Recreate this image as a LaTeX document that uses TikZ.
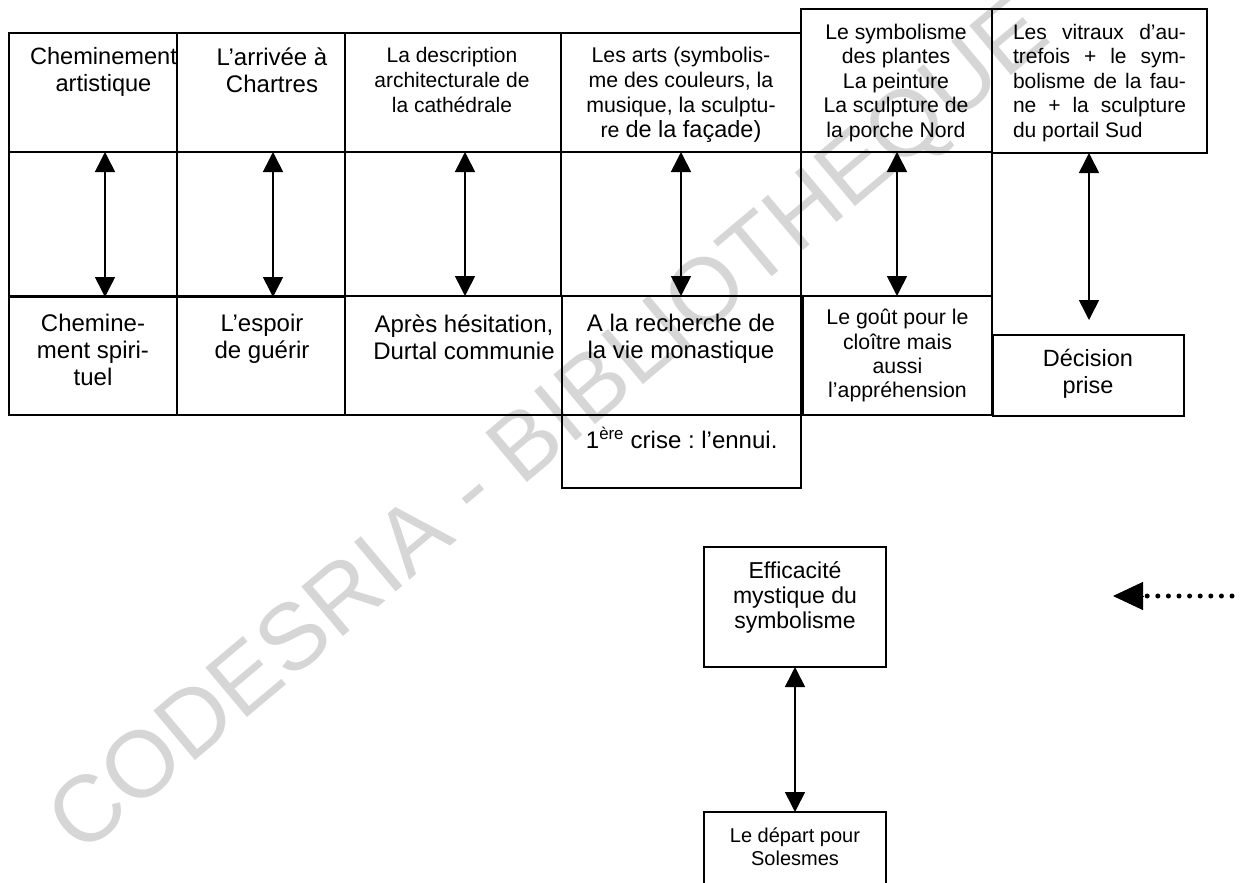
\documentclass[tikz,border=0pt]{standalone}
\usepackage{fontspec}
\setmainfont{Liberation Sans}
\usetikzlibrary{arrows.meta}
\frenchspacing
\begin{document}
\begin{tikzpicture}[x=1pt,y=-1pt,
  cell/.style={draw,line width=1.6pt,inner sep=0pt,outer sep=0pt,rectangle},
  txt/.style={inner sep=0pt,align=center,anchor=north},
  dbl/.style={line width=1.6pt,{Triangle[length=20pt,width=20pt]}-{Triangle[length=20pt,width=20pt]}},
  dotline/.style={line width=5pt,line cap=round,dash pattern=on 0pt off 10.6pt},
  headonly/.style={line width=1pt,-{Triangle[length=30pt,width=28pt]}},
  wm/.style={text=black!16,font=\fontsize{94}{96}\selectfont,rotate=40,inner sep=0pt}]
\useasboundingbox (0,0) rectangle (1245,883);
\clip (0,0) rectangle (1245,883);
\fill[white] (0,0) rectangle (1245,883);
% watermark
\node[wm] (wmark) at (552,430) {CODESRIA - BIBLIOTHEQUE};
% top row
\node[cell,minimum width=168pt,minimum height=119pt] (t1) at (93,92.5) {};
\node[cell,minimum width=168pt,minimum height=119pt] (t2) at (261,92.5) {};
\node[cell,minimum width=216pt,minimum height=119pt] (t3) at (453,92.5) {};
\node[cell,minimum width=240pt,minimum height=119pt] (t4) at (681,92.5) {};
\node[cell,minimum width=191pt,minimum height=143pt] (t5) at (896.5,80.5) {};
\node[cell,minimum width=215pt,minimum height=144pt] (t6) at (1099.5,81) {};
% middle row
\node[cell,minimum width=168pt,minimum height=144pt] (m1) at (93,224) {};
\node[cell,minimum width=168pt,minimum height=144pt] (m2) at (261,224) {};
\node[cell,minimum width=216pt,minimum height=144pt] (m3) at (453,224) {};
\node[cell,minimum width=240pt,minimum height=144pt] (m4) at (681,224) {};
\node[cell,minimum width=191pt,minimum height=144pt] (m5) at (896.5,224) {};
% bottom row
\node[cell,minimum width=168pt,minimum height=118pt] (b1) at (93,356) {};
\node[cell,minimum width=168pt,minimum height=118pt] (b2) at (261,356) {};
\node[cell,minimum width=217pt,minimum height=119pt] (b3) at (453.5,355.5) {};
\node[cell,minimum width=239pt,minimum height=119pt] (b4) at (681.5,355.5) {};
\node[cell,minimum width=189pt,minimum height=119pt] (b5) at (897.5,355.5) {};
\node[cell,minimum width=239pt,minimum height=73pt] (c4) at (681.5,451.5) {};
\node[cell,minimum width=191pt,minimum height=81pt] (d6) at (1088.5,375.5) {};
% lower boxes
\node[cell,minimum width=182pt,minimum height=120pt] (e1) at (795,607) {};
\node[cell,minimum width=182pt,minimum height=88pt] (e2) at (795,856) {};
% texts
\node[txt,font=\fontsize{23.6}{27}\selectfont] (t1x) at (103.5,47) {Cheminement\\artistique};
\node[txt,font=\fontsize{24}{27}\selectfont] (t2x) at (272,48) {L’arrivée à\\Chartres};
\node[txt,font=\fontsize{21}{25}\selectfont] (t3x) at (452,47) {La description\\architecturale de\\la cathédrale};
\node[txt,font=\fontsize{21.3}{25}\selectfont] (t4x) at (681,47) {Les arts (symbolis-\\me des couleurs, la\\musique, la sculptu-\\re {\fontsize{23.5}{25}\selectfont de la façade)}};
\node[txt,font=\fontsize{21.2}{24.4}\selectfont] (t5x) at (896,24) {Le symbolisme\\des plantes\\La peinture\\La sculpture de\\la porche Nord};
\node[txt,align=left,font=\fontsize{21}{24.4}\selectfont] (t6x) at (1099.5,24) {\makebox[173pt][s]{Les vitraux d’au-}\\\makebox[173pt][s]{trefois + le sym-}\\\makebox[173pt][s]{bolisme de la fau-}\\\makebox[173pt][s]{ne + la sculpture}\\\makebox[173pt][l]{du portail Sud}};
\node[txt,font=\fontsize{24}{27}\selectfont] (b1x) at (93,314) {Chemine-\\ment spiri-\\tuel};
\node[txt,font=\fontsize{24}{27}\selectfont] (b2x) at (262,314) {L’espoir\\de guérir};
\node[txt,font=\fontsize{24}{26.7}\selectfont] (b3x) at (464,315) {Après hésitation,\\Durtal communie};
\node[txt,font=\fontsize{24}{26.7}\selectfont] (b4x) at (681,314) {A la recherche de\\la vie monastique};
\node[txt,font=\fontsize{21.3}{24.4}\selectfont] (b5x) at (897.5,309) {Le goût pour le\\cloître mais\\aussi\\l’appréhension};
\node[txt,font=\fontsize{23.5}{26.7}\selectfont] (d6x) at (1088,349) {Décision\\prise};
\node[txt,font=\fontsize{24}{27}\selectfont] (c4x) at (681.7,427) {1\textsuperscript{ère} crise : l’ennui.};
\node[txt,font=\fontsize{23}{25}\selectfont] (e1x) at (795,561) {Efficacité\\mystique du\\symbolisme};
\node[txt,font=\fontsize{20}{23}\selectfont] (e2x) at (795,828) {Le départ pour\\Solesmes};
% arrow columns
\coordinate (x1) at (105,0);
\coordinate (x2) at (273,0);
\coordinate (x3) at (465,0);
\coordinate (x4) at (681,0);
\coordinate (x5) at (897,0);
\coordinate (x6) at (1089,0);
\coordinate (x7) at (795,0);
\coordinate (d6top) at ([yshift=15pt]d6.north);
\draw[dbl] (t1.south -| x1) -- (b1.north -| x1);
\draw[dbl] (t2.south -| x2) -- (b2.north -| x2);
\draw[dbl] (t3.south -| x3) -- (b3.north -| x3);
\draw[dbl] (t4.south -| x4) -- (b4.north -| x4);
\draw[dbl] (t5.south -| x5) -- (b5.north -| x5);
\draw[dbl] (t6.south -| x6) -- (d6top -| x6);
\draw[dbl] (e1.south -| x7) -- (e2.north -| x7);
% dotted arrow
\coordinate (dr) at (1232,596);
\coordinate (dl) at (1147,596);
\coordinate (hb) at (1143,596);
\coordinate (tip) at (1113,596);
\draw[dotline] (dr) -- (dl);
\draw[headonly] (hb) -- (tip);
\end{tikzpicture}
\end{document}
